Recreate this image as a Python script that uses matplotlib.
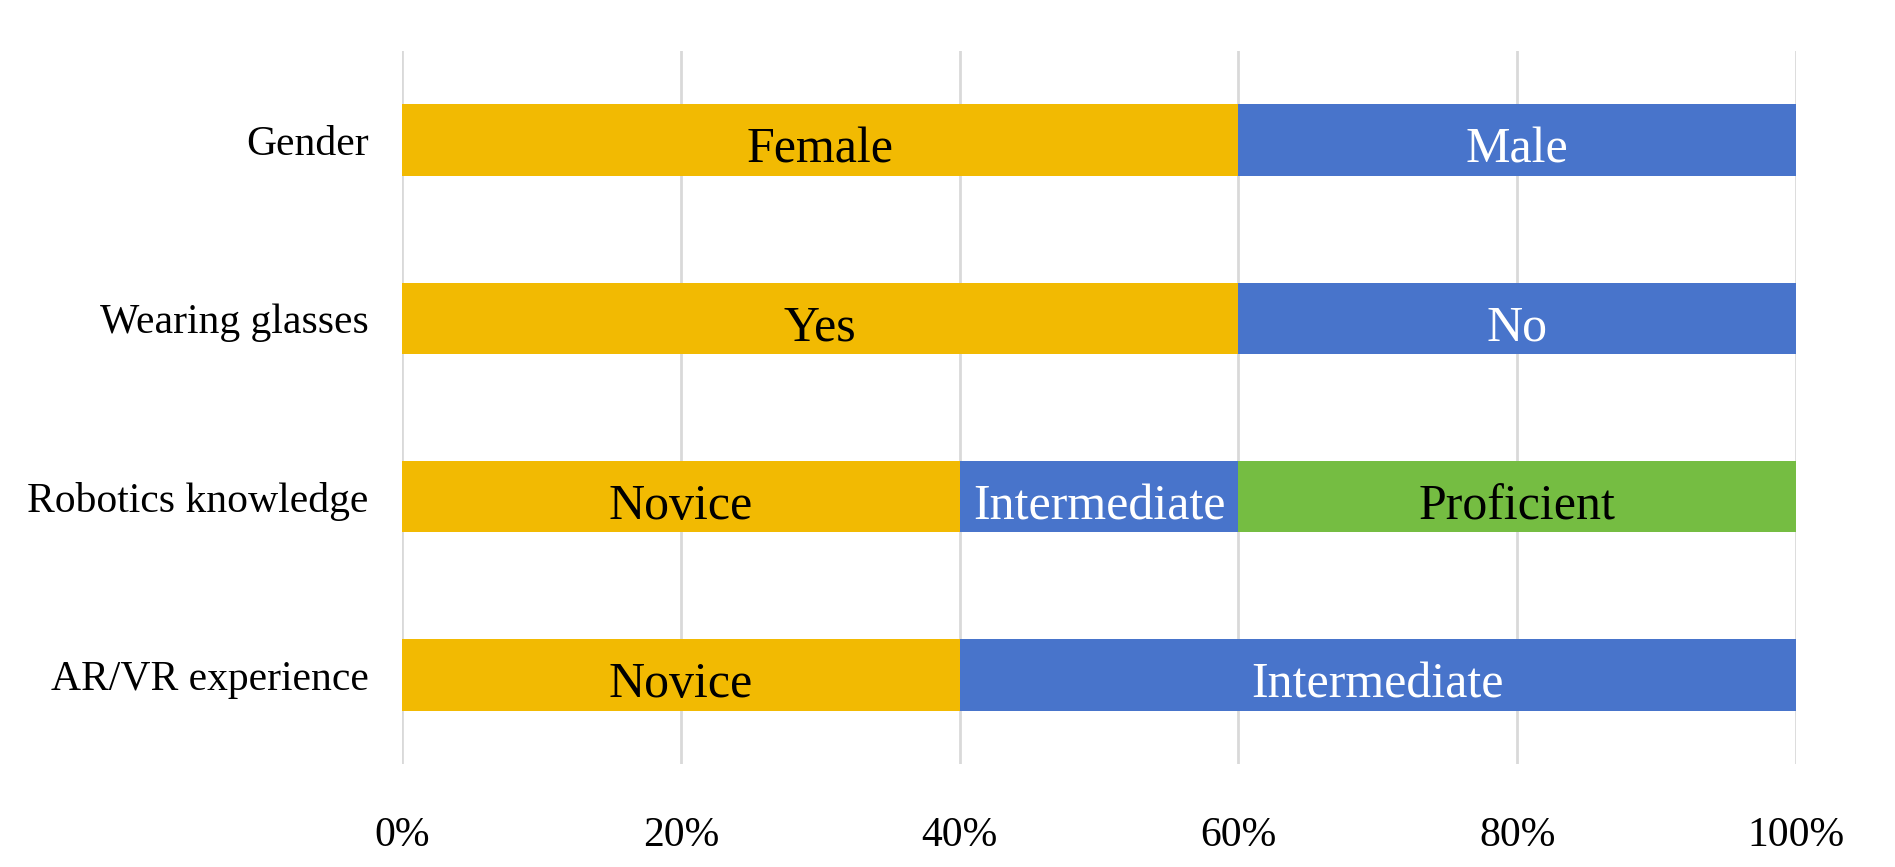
import matplotlib
matplotlib.use("Agg")
import matplotlib.pyplot as plt
from matplotlib.ticker import FuncFormatter

plt.rcParams['font.family'] = ['Liberation Serif', 'DejaVu Serif']

categories = ["Gender", "Wearing glasses", "Robotics knowledge", "AR/VR experience"]
seg1_values = [60, 60, 40, 40]
seg1_labels = ["Female", "Yes", "Novice", "Novice"]
seg2_values = [40, 40, 20, 60]
seg2_labels = ["Male", "No", "Intermediate", "Intermediate"]
seg3_values = [0, 0, 40, 0]
seg3_labels = ["", "", "Proficient", ""]
x_ticks = [0, 20, 40, 60, 80, 100]

colors = ["#F2BA02", "#4874CB", "#75BD42"]
text_colors = ["black", "white", "black"]

fig = plt.figure(figsize=(18.95, 8.67), dpi=100)
ax = fig.add_axes([0.2121, 0.1188, 0.9478 - 0.2121, 0.9412 - 0.1188])

ypos = list(range(len(categories)))
left = [0] * len(categories)
for vals, labs, c, tc in zip([seg1_values, seg2_values, seg3_values],
                             [seg1_labels, seg2_labels, seg3_labels],
                             colors, text_colors):
    ax.barh(ypos, vals, left=left, height=0.4, color=c, zorder=3)
    for y, v, l, lab in zip(ypos, vals, left, labs):
        if v > 0 and lab:
            ax.annotate(lab, (l + v / 2, y), xytext=(0, -3.5),
                        textcoords='offset points', ha='center',
                        va='center_baseline', fontsize=36, color=tc, zorder=4)
    left = [a + b for a, b in zip(left, vals)]

ax.set_xlim(0, 100)
ax.set_ylim(len(categories) - 0.5, -0.5)
ax.set_yticks(ypos)
ax.set_yticklabels(categories, fontsize=30)
ax.set_xticks(x_ticks)
ax.xaxis.set_major_formatter(FuncFormatter(lambda v, p: f"{int(v)}%"))
ax.tick_params(axis='x', labelsize=30, length=0, pad=37.5)
ax.tick_params(axis='y', length=0, pad=24)
ax.grid(axis='x', color='#D9D9D9', linewidth=2, zorder=0)
for s in ax.spines.values():
    s.set_visible(False)

fig.savefig("out.png", dpi=100)
